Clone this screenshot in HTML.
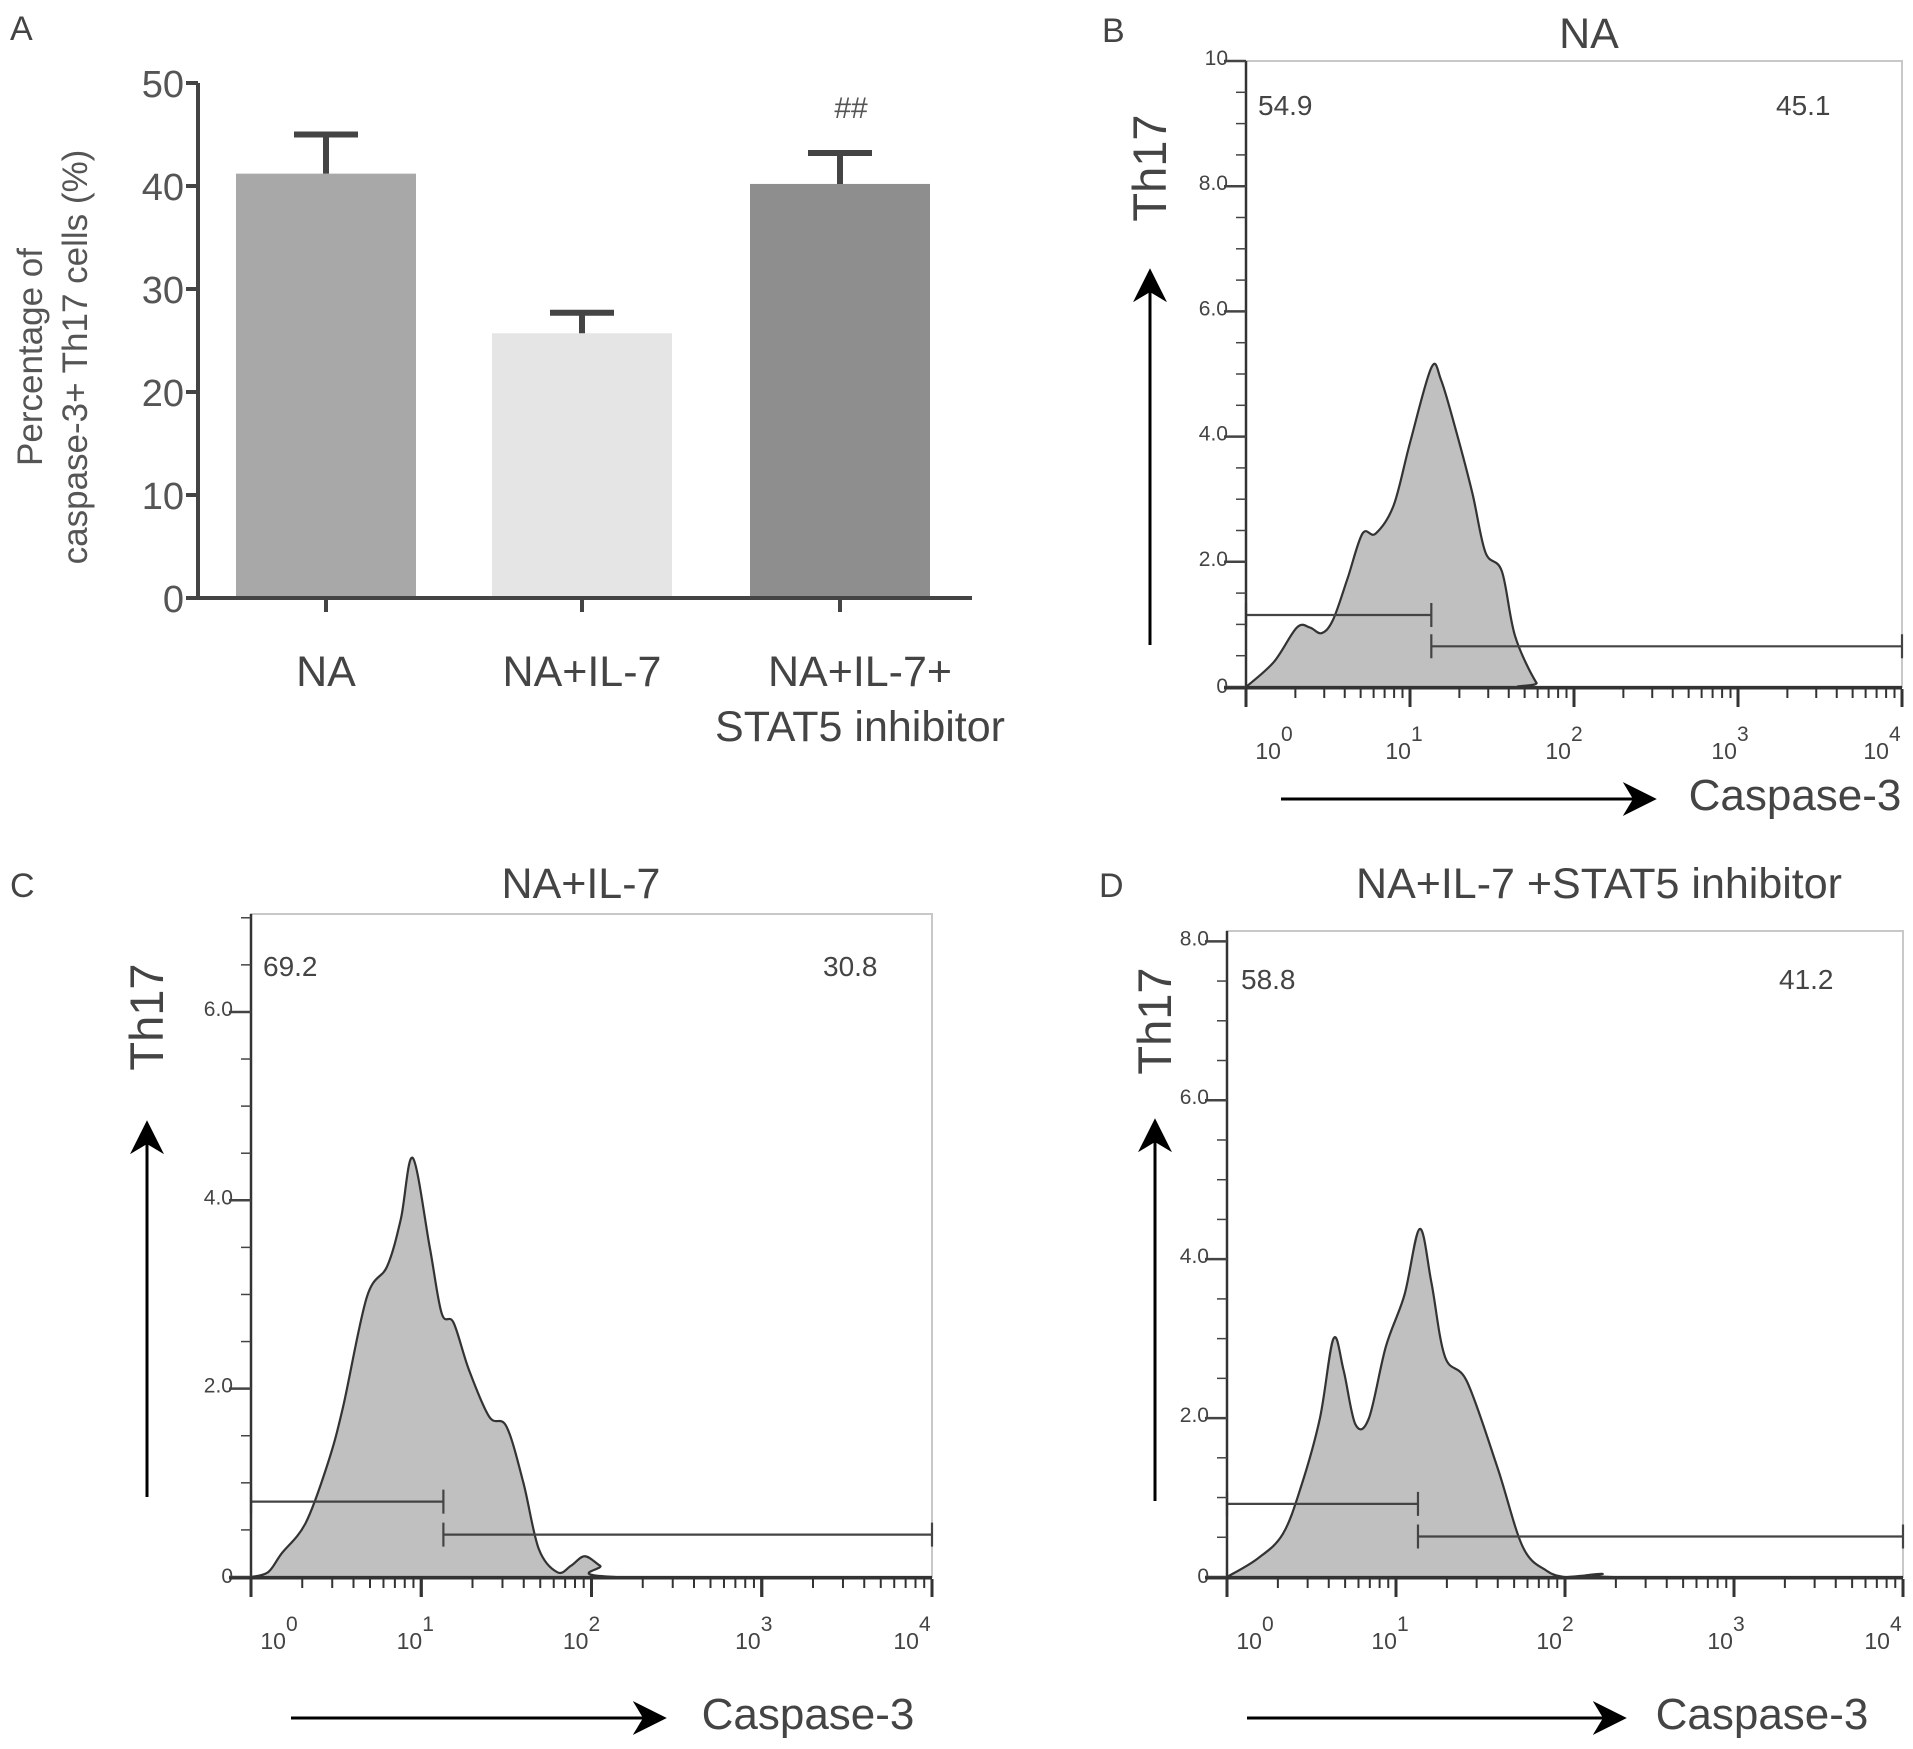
<!DOCTYPE html>
<html><head><meta charset="utf-8">
<style>
html,body{margin:0;padding:0;background:#fff;}
svg{display:block;font-family:"Liberation Sans",sans-serif;}
</style></head>
<body>
<svg id="fig" width="1913" height="1749" viewBox="0 0 1913 1749" xmlns="http://www.w3.org/2000/svg">
<defs>
<marker id="ah" viewBox="0 0 10 10" refX="8" refY="5" markerWidth="34" markerHeight="34" orient="auto-start-reverse" markerUnits="userSpaceOnUse">
<path d="M0,0 L10,5 L0,10 L3,5 z" fill="#000"/></marker>
</defs>
<g id="panelA"></g>
<g id="panelB"></g>
<g id="panelC"></g>
<g id="panelD"></g>
</svg>
<script>
// ---- Panel A data ----
const barCategories = ["NA", "NA+IL-7", "NA+IL-7+|STAT5 inhibitor"];
const barValues = [41.2, 25.7, 40.2];
const barErrors = [3.8, 2.0, 3.0];
const barColors = ["#a8a8a8", "#e5e5e5", "#8e8e8e"];
const barYTicks = [0, 10, 20, 30, 40, 50];

// ---- Flow panel data (x in decades from 10^0, y in count units) ----
const bX = [0,0.17,0.31,0.39,0.46,0.53,0.62,0.71,0.79,0.9,1.0,1.13,1.19,1.28,1.38,1.46,1.56,1.64,1.77,1.83,4];
const bY = [0,0.4,0.95,0.95,0.86,1.07,1.74,2.45,2.45,2.9,3.9,5.1,4.9,4.1,3.1,2.15,1.85,0.82,0.07,0,0];
const cX = [0,0.1,0.18,0.32,0.45,0.54,0.68,0.8,0.88,0.95,1.05,1.12,1.19,1.28,1.4,1.5,1.6,1.69,1.8,1.88,1.96,2.05,2.15,4];
const cY = [0,0.05,0.25,0.57,1.2,1.8,2.97,3.3,3.8,4.45,3.5,2.8,2.7,2.2,1.7,1.6,1.0,0.3,0.05,0.12,0.22,0.12,0,0];
const dX = [0,0.18,0.33,0.44,0.55,0.63,0.69,0.76,0.84,0.94,1.05,1.14,1.21,1.29,1.42,1.6,1.75,1.89,2.0,2.12,2.22,2.32,4];
const dY = [0,0.23,0.54,1.15,2.0,3.0,2.6,1.92,2.0,2.9,3.55,4.38,3.7,2.77,2.46,1.38,0.38,0.08,0,0.02,0.04,0,0];
const bGates = [[0,1.13,1.15],[1.13,4,0.65]];
const cGates = [[0,1.13,0.8],[1.13,4,0.45]];
const dGates = [[0,1.13,0.92],[1.13,4,0.51]];
const bYTicks = [0,2,4,6,8,10];
const cYTicks = [0,2,4,6];
const dYTicks = [0,2,4,6,8];
const bPct = ["54.9","45.1"];
const cPct = ["69.2","30.8"];
const dPct = ["58.8","41.2"];

const NS="http://www.w3.org/2000/svg";
function mk(parent, tag, attrs, text){
  const e=document.createElementNS(NS,tag);
  for(const k in attrs) e.setAttribute(k,attrs[k]);
  if(text!==undefined) e.textContent=text;
  parent.appendChild(e); return e;
}

// ---- Panel A ----
(function(){
  const g=document.getElementById('panelA');
  const x0=198, x1=972, yTop=83, yBase=598, vmax=50;
  const ys=v=>yBase-(v/vmax)*(yBase-yTop);
  const centers=[326,582,840], bw=180;
  let t=mk(g,'text',{x:10,y:40,'font-size':34,fill:'#444'},'A');
  
  
  barValues.forEach((v,i)=>{
    const cx=centers[i];
    const r=mk(g,'rect',{x:cx-bw/2,y:ys(v),width:bw,height:yBase-ys(v),fill:barColors[i]});
    
    
    const e=mk(g,'path',{d:`M${cx},${ys(v)} V${ys(v+barErrors[i])} M${cx-32},${ys(v+barErrors[i])} H${cx+32}`,stroke:'#444','stroke-width':6,fill:'none'});
    
    
    const tk=mk(g,'line',{x1:cx,x2:cx,y1:yBase,y2:yBase+14,stroke:'#444','stroke-width':4});
    
    
    const parts=barCategories[i].split('|');
    parts.forEach((p,j)=>{
      const l=mk(g,'text',{x:cx+(parts.length>1?20:0),y:686+j*55,'font-size':43,fill:'#444','text-anchor':'middle'},p);
      
      
    });
  });
  const ax=mk(g,'path',{d:`M${x0},${yTop} V${yBase} H${x1}`,stroke:'#444','stroke-width':4,fill:'none'});
  
  
  barYTicks.forEach(v=>{
    const l=mk(g,'line',{x1:x0-12,x2:x0,y1:ys(v),y2:ys(v),stroke:'#444','stroke-width':4});
    
    
    const tt=mk(g,'text',{x:x0-14,y:ys(v)+14,'font-size':38,fill:'#555','text-anchor':'end'},v);
    
    
  });
  const yt=mk(g,'text',{transform:'translate(42,357) rotate(-90)','font-size':35,fill:'#555','text-anchor':'middle'});
  
  
  mk(yt,'tspan',{x:0,dy:0},'Percentage of');
  mk(yt,'tspan',{x:0,dy:45},'caspase-3+ Th17 cells (%)');
  const h=mk(g,'text',{x:851,y:118,'font-size':30,fill:'#555','text-anchor':'middle'},'##');
  
  
})();

// ---- Flow panels ----
function flow(cfg){
  const g=document.getElementById(cfg.id);
  const {L,R,T,B,ymax,xs,yv,gates,ticks,pct}=cfg;
  const dec=(R-L)/4;
  const sx=d=>L+d*dec, sy=v=>B-v*(B-T)/ymax;
  let t=mk(g,'text',{x:cfg.letter[1],y:cfg.letter[2],'font-size':34,fill:'#444'},cfg.letter[0]);
  
  
  t=mk(g,'text',{x:cfg.title[1],y:cfg.title[2],'font-size':43,fill:'#444','text-anchor':'middle'},cfg.title[0]);
  
  
  const box=mk(g,'rect',{x:L,y:T,width:R-L,height:B-T,fill:'none',stroke:'#c8c8c8','stroke-width':2});
  
  
  // curve (Catmull-Rom)
  const P=xs.map((x,i)=>[sx(x),sy(yv[i])]);
  let d=`M${P[0][0]},${P[0][1]}`;
  for(let i=0;i<P.length-1;i++){
    const p0=P[Math.max(0,i-1)],p1=P[i],p2=P[i+1],p3=P[Math.min(P.length-1,i+2)];
    const c1=[p1[0]+(p2[0]-p0[0])/6,p1[1]+(p2[1]-p0[1])/6];
    const c2=[p2[0]-(p3[0]-p1[0])/6,p2[1]-(p3[1]-p1[1])/6];
    c1[1]=Math.min(c1[1],B); c2[1]=Math.min(c2[1],B);
    d+=` C${c1[0]},${c1[1]} ${c2[0]},${c2[1]} ${p2[0]},${p2[1]}`;
  }
  const c=mk(g,'path',{d:d+` L${sx(xs[xs.length-1])},${B} L${sx(xs[0])},${B} Z`,fill:'#c0c0c0',stroke:'#333','stroke-width':2.2});
  
  
  gates.forEach((gt,i)=>{
    const y=sy(gt[2]);
    const p=mk(g,'path',{d:`M${sx(gt[0])},${y} H${sx(gt[1])} M${sx(gt[0])},${y-12} V${y+12} M${sx(gt[1])},${y-12} V${y+12}`,stroke:'#444','stroke-width':2.2,fill:'none'});
    
    
  });
  const ya=mk(g,'line',{x1:L,x2:L,y1:T,y2:B,stroke:'#333','stroke-width':2.5});
  
  
  for(let v=0;v<=ymax+1e-6;v+=0.5){
    const maj=Math.abs(v-Math.round(v/2)*2)<1e-6;
    const l=mk(g,'line',{x1:L-(maj?22:10),x2:L,y1:sy(v),y2:sy(v),stroke:'#444','stroke-width':maj?2.5:1.5});
    
    
  }
  ticks.forEach(v=>{
    const lab=v===0?'0':(v===10?'10':v.toFixed(1));
    const tt=mk(g,'text',{x:L-18,y:sy(v)+(v===0?6:4),'font-size':21,fill:'#444','text-anchor':'end'},lab);
    
    
  });
  const xa=mk(g,'line',{x1:L-22,x2:R,y1:B+1,y2:B+1,stroke:'#333','stroke-width':3});
  
  
  for(let k=0;k<4;k++){
    for(let m=1;m<=10;m++){
      const x=sx(k+Math.log10(m));
      const maj=(m===1||m===10);
      const l=mk(g,'line',{x1:x,x2:x,y1:B+2,y2:B+(maj?20:11),stroke:'#333','stroke-width':maj?3:2});
      
      
    }
  }
  const offs=[28,-6,-10,-8,-20];
  for(let k=0;k<=4;k++){
    const tx=mk(g,'text',{x:sx(k)+offs[k],y:B+72,'font-size':23,fill:'#444','text-anchor':'middle'});
    
    
    mk(tx,'tspan',{},'10');
    mk(tx,'tspan',{dy:-18,'font-size':21},String(k));
  }
  t=mk(g,'text',{x:cfg.p1[0],y:cfg.p1[1],'font-size':28,fill:'#444'},pct[0]);
  
  
  t=mk(g,'text',{x:cfg.p2[0],y:cfg.p2[1],'font-size':28,fill:'#444'},pct[1]);
  
  
  t=mk(g,'text',{transform:`translate(${cfg.th[0]+16},${cfg.th[1]}) rotate(-90)`,'font-size':47,fill:'#444','text-anchor':'middle'},'Th17');
  
  
  const ua=mk(g,'line',{x1:cfg.ua[0],x2:cfg.ua[0],y1:cfg.ua[1],y2:cfg.ua[2],stroke:'#000','stroke-width':3,'marker-end':'url(#ah)'});
  
  
  const ra=mk(g,'line',{x1:cfg.ra[0],x2:cfg.ra[1],y1:cfg.ra[2],y2:cfg.ra[2],stroke:'#000','stroke-width':3,'marker-end':'url(#ah)'});
  
  
  t=mk(g,'text',{x:cfg.cl[0],y:cfg.cl[1],'font-size':44,fill:'#444','text-anchor':'middle'},'Caspase-3');
  
  
}

flow({id:'panelB',L:1246,R:1902,T:61,B:687,ymax:10,xs:bX,yv:bY,gates:bGates,ticks:bYTicks,pct:bPct,
  letter:['B',1102,42],title:['NA',1589,48],p1:[1258,115],p2:[1776,115],th:[1150,168],ua:[1150,645,275],ra:[1281,1650,799],cl:[1795,810]});
flow({id:'panelC',L:251,R:932,T:914,B:1577,ymax:7.04,xs:cX,yv:cY,gates:cGates,ticks:cYTicks,pct:cPct,
  letter:['C',10,897],title:['NA+IL-7',581,898],p1:[263,976],p2:[823,976],th:[147,1017],ua:[147,1497,1127],ra:[291,660,1718],cl:[808,1729]});
flow({id:'panelD',L:1227,R:1903,T:931,B:1577,ymax:8.13,xs:dX,yv:dY,gates:dGates,ticks:dYTicks,pct:dPct,
  letter:['D',1099,897],title:['NA+IL-7 +STAT5 inhibitor',1599,898],p1:[1241,989],p2:[1779,989],th:[1155,1021],ua:[1155,1501,1125],ra:[1247,1620,1718],cl:[1762,1729]});
</script>
</body></html>
